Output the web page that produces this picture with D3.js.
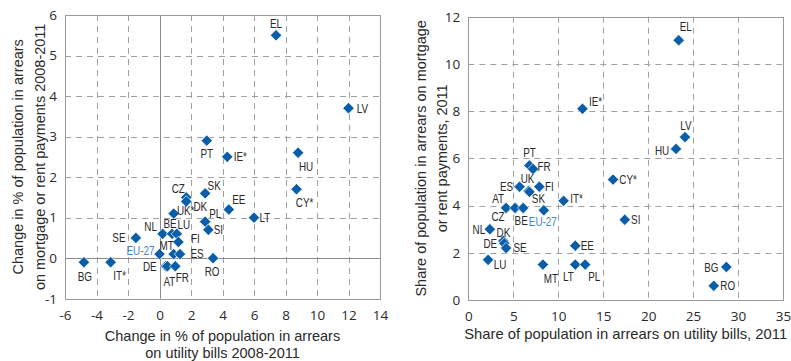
<!DOCTYPE html>
<html><head><meta charset="utf-8">
<script src="https://cdn.jsdelivr.net/npm/d3@7"></script>
<style>body{margin:0;background:#fff} svg{display:block}</style>
</head><body><svg id="c" width="791" height="361"></svg>
<script>
// ---- DATA ----
const countries = ["BG","IT*","SE","EU-27","NL","BE","LU","FI","MT","ES","DE","AT","FR","RO","UK*","CZ","DK","SK","PL","SI","EE","LT","PT","IE*","EL","LV","HU","CY*"];
// Left panel: change 2008-2011 (percentage points)
const utilChange = [-4.8,-3.1,-1.5,0.0,0.2,0.8,1.1,1.2,0.9,1.3,0.4,0.5,1.0,3.4,0.9,1.7,1.7,2.9,2.9,3.1,4.4,6.0,3.0,4.3,7.4,12.0,8.8,8.7];
const mortChange = [-0.1,-0.1,0.5,0.1,0.6,0.6,0.6,0.4,0.1,0.1,-0.2,-0.2,-0.2,0.0,1.1,1.5,1.4,1.6,0.9,0.7,1.2,1.0,2.9,2.5,5.5,3.7,2.6,1.7];
// Right panel: shares 2011 (%)
const countriesR = ["EL","IE*","LV","HU","PT","FR","CY*","ES","UK","SK","FI","IT*","AT","CZ","BE","EU-27","SI","NL","DK","DE","SE","EE","LU","MT","LT","PL","BG","RO"];
const utilShare = [23.4,12.7,24.1,23.1,6.8,7.2,16.1,5.7,6.7,6.8,7.9,10.6,4.2,5.2,6.1,8.4,17.4,2.4,3.9,4.0,4.2,11.9,2.2,8.3,11.9,13.0,28.7,27.3];
const mortShare = [11.0,8.1,6.9,6.4,5.7,5.55,5.1,4.8,4.62,4.58,4.8,4.2,3.9,3.9,3.9,3.8,3.4,3.0,2.5,2.4,2.2,2.3,1.7,1.5,1.5,1.5,1.4,0.6];
const leftXTicks = [-6,-4,-2,0,2,4,6,8,10,12,14];
const leftYTicks = [-1,0,1,2,3,4,5,6];
const rightXTicks = [0,5,10,15,20,25,30,35];
const rightYTicks = [0,2,4,6,8,10,12];
const leftXTitle = ["Change in % of population in arrears","on utility bills 2008-2011"];
const leftYTitle = ["Change in % of population in arrears","on mortgage or rent payments 2008-2011"];
const rightXTitle = ["Share of population in arrears on utility bills, 2011"];
const rightYTitle = ["Share of population in arrears on mortgage","or rent payments, 2011"];

// ---- LAYOUT (label offsets in px) ----
const leftLabelOff = {"BG":[1,14],"IT*":[9,13],"SE":[-17,0],"EU-27":[-19,-4],"NL":[-12,-7],"BE":[-2,-10],"LU":[7,-9],"FI":[17,-4],"MT":[-7,-9],"ES":[17,-1],"DE":[-16,0],"AT":[2,15],"FR":[7,11],"RO":[-1,13],"UK*":[12,-3],"CZ":[-8,-9],"DK":[14,5],"SK":[9,-8],"PL":[10,-8],"SI":[10,0],"EE":[10,-10],"LT":[11,0],"PT":[0,13],"IE*":[13,0],"EL":[0,-12],"LV":[14,0],"HU":[8,14],"CY*":[8,13]};
const rightLabelOff = {"EL":[7,-14],"IE*":[13,-7],"LV":[1,-12],"HU":[-14,2],"PT":[0,-13],"FR":[11,-3],"CY*":[15,0],"ES":[-13,0],"UK":[-1,-12],"SK":[9,7],"FI":[10,0],"IT*":[13,-2],"AT":[-8,-9],"CZ":[-17,9],"BE":[-2,13],"EU-27":[-1,11],"SI":[11,0],"NL":[-11,0],"DK":[0,-9],"DE":[-14,0],"SE":[14,-1],"EE":[12,0],"LU":[12,5],"MT":[8,14],"LT":[-7,12],"PL":[9,12],"BG":[-15,0],"RO":[14,0]};

const BLUE = "#0a5ea8", EUBLUE = "#3f86c6", GRID = "#a0a0a0", FRAME = "#9a9a9a", TXT = "#2a2a2a";
const AXFONT = "'Open Sans', 'Liberation Sans', sans-serif";
const TITLEFONT = "'Liberation Sans', Arial, sans-serif";
const LBLFONT = "'Liberation Sans', Arial, sans-serif";

const svg = d3.select("#c");
svg.append("rect").attr("width",791).attr("height",361).attr("fill","#fff");

function panel(opt){
  const g = svg.append("g");
  const x = d3.scaleLinear().domain(opt.xd).range(opt.xr);
  const y = d3.scaleLinear().domain(opt.yd).range(opt.yr);
  const [x0,x1] = opt.xr, [y1,y0] = opt.yr;
  // grid
  opt.xTicks.forEach(t=>{
    if (t===opt.xd[0]||t===opt.xd[1]) return;
    const px = Math.round(x(t))+0.5;
    g.append("line").attr("x1",px).attr("x2",px).attr("y1",y0).attr("y2",y1)
     .attr("stroke", t===0&&opt.zero ? "#8a8a8a" : GRID)
     .attr("stroke-dasharray", t===0&&opt.zero ? null : "6,5");
  });
  opt.yTicks.forEach(t=>{
    if (t===opt.yd[0]||t===opt.yd[1]) return;
    const py = Math.round(y(t))+0.5;
    g.append("line").attr("x1",x0).attr("x2",x1).attr("y1",py).attr("y2",py)
     .attr("stroke", t===0&&opt.zero ? "#8a8a8a" : GRID)
     .attr("stroke-dasharray", t===0&&opt.zero ? null : "6,5");
  });
  g.append("rect").attr("x",Math.round(x0)+0.5).attr("y",Math.round(y0)+0.5)
   .attr("width",Math.round(x1-x0)).attr("height",Math.round(y1-y0))
   .attr("fill","none").attr("stroke",FRAME);
  // axes
  const ax = g.append("g").attr("transform",`translate(0,${y1})`)
    .call(d3.axisBottom(x).tickValues(opt.xTicks).tickSize(0).tickPadding(opt.xpad).tickFormat(d=>d));
  const ay = g.append("g").attr("transform",`translate(${x0},0)`)
    .call(d3.axisLeft(y).tickValues(opt.yTicks).tickSize(0).tickPadding(8).tickFormat(d=>d));
  [ax,ay].forEach(a=>{a.select(".domain").remove();
    a.selectAll("text").attr("font-family",AXFONT).attr("font-size",13.5).attr("fill",TXT);});
  // titles
  opt.xTitle.forEach((s,i)=>{
    g.append("text").attr("x",(x0+x1)/2).attr("y",opt.xTitleY[i]).attr("dy","0.35em")
     .attr("text-anchor","middle").attr("font-family",TITLEFONT).attr("font-size",opt.xtfs).attr("fill",TXT).text(s);
  });
  opt.yTitle.forEach((s,i)=>{
    const cx = opt.yTitleX[i], cy = (y0+y1)/2;
    g.append("text").attr("transform",`translate(${cx},${cy}) rotate(-90)`).attr("dy","0.35em")
     .attr("text-anchor","middle").attr("font-family",TITLEFONT).attr("font-size",14.5).attr("fill",TXT).text(s);
  });
  // points
  const r = 5.7;
  const diamond = `M0,${-r}L${r},0L0,${r}L${-r},0Z`;
  opt.names.forEach((n,i)=>{
    g.append("path").attr("d",diamond)
     .attr("transform",`translate(${x(opt.xs[i])},${y(opt.ys[i])})`)
     .attr("fill",BLUE).attr("stroke","#fff").attr("stroke-width",0.7);
  });
  opt.names.forEach((n,i)=>{
    const o = opt.off[n]||[0,0];
    g.append("text").attr("transform",`translate(${x(opt.xs[i])+o[0]},${y(opt.ys[i])+o[1]}) scale(0.76,1)`).attr("dy","0.35em")
     .attr("text-anchor","middle").attr("font-family",LBLFONT).attr("font-size",13)
     .attr("fill", n==="EU-27"?EUBLUE:TXT).text(n);
  });
}

panel({xd:[-6,14], yd:[-1,6], xr:[65,380], yr:[298.7,15], xTicks:leftXTicks, yTicks:leftYTicks, zero:true, xpad:11.5, xtfs:14.5,
  xTitle:leftXTitle, xTitleY:[336,352.5], yTitle:leftYTitle, yTitleX:[18,40],
  names:countries, xs:utilChange, ys:mortChange, off:leftLabelOff});
panel({xd:[0,35], yd:[0,12], xr:[468.3,783], yr:[300,16.7], xTicks:rightXTicks, yTicks:rightYTicks, zero:false, xpad:11.5, xtfs:14.8,
  xTitle:rightXTitle, xTitleY:[334], yTitle:rightYTitle, yTitleX:[421,442],
  names:countriesR, xs:utilShare, ys:mortShare, off:rightLabelOff});
</script></body></html>
